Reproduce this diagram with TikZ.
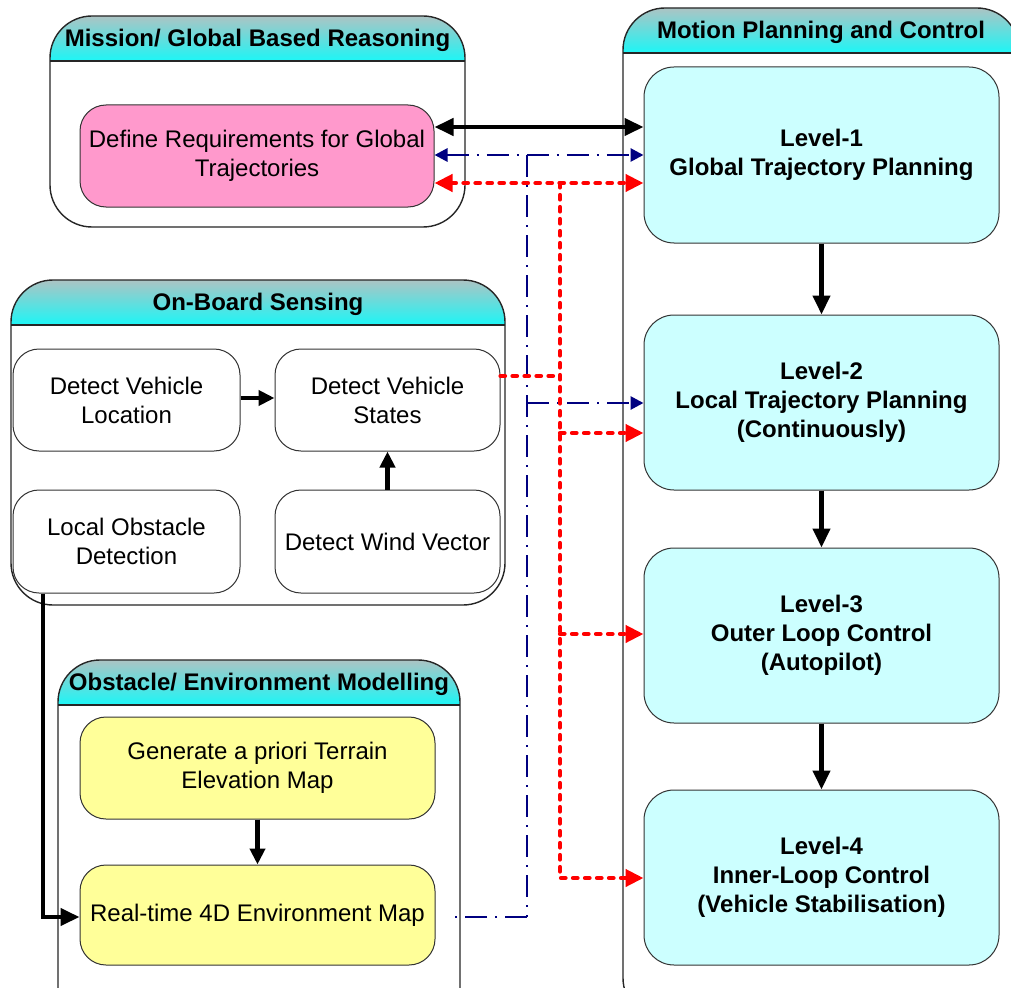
\documentclass[tikz,border=0pt]{standalone}
\usepackage{fontspec}
\setmainfont{Liberation Sans}
\usetikzlibrary{arrows.meta}
\definecolor{hdtop}{RGB}{172,196,196}
\definecolor{hdbot}{RGB}{28,246,246}
\definecolor{pinkfill}{RGB}{255,153,204}
\definecolor{yelfill}{RGB}{255,255,153}
\definecolor{cyfill}{RGB}{204,255,255}
\definecolor{navyline}{RGB}{0,0,128}
\definecolor{redline}{RGB}{255,0,0}
\tikzset{
  every node/.style={font=\fontsize{24}{29}\selectfont, align=center, inner sep=0pt},
  contline/.style={draw=black!85, line width=1.4pt},
  titlenode/.style={font=\fontsize{24}{29}\selectfont\bfseries},
  procbox/.style={draw=black!80, line width=1pt, rounded corners=26pt},
  pinkbox/.style={procbox, fill=pinkfill},
  whitebox/.style={procbox, fill=white},
  yelbox/.style={procbox, fill=yelfill},
  levelbox/.style={procbox, fill=cyfill, rounded corners=30pt, font=\fontsize{24}{29}\selectfont\bfseries},
  blk/.style={line width=4.2pt, -{Triangle[length=19pt,width=17pt]}},
  blu/.style={draw=navyline, line width=2.8pt, dash pattern=on 22pt off 8pt on 2pt off 8pt},
  rdot/.style={draw=redline, line width=4.2pt, line cap=round, dash pattern=on 4.5pt off 7.5pt},
}
\newcommand{\contbox}[7]{%
  \begin{scope}
    \clip[rounded corners=42pt] (#2,#3) rectangle (#4,#5);
    \fill[white] (#2,#3) rectangle (#4,#5);
    \shade[top color=hdtop, bottom color=hdbot] (#2,#3) rectangle (#4,#6);
  \end{scope}
  \draw[contline, rounded corners=42pt] (#2,#3) rectangle (#4,#5);
  \draw[contline] (#2,#6) -- (#4,#6);
  \node[titlenode] (#1) at ({(#2+#4)/2},{(#3+#6)/2+1.5}) {#7};
}
\begin{document}
\begin{tikzpicture}[x=1pt,y=-1pt]
\clip (0,0) rectangle (1011,987);
\fill[white] (0,0) rectangle (1011,987);
% containers
\contbox{tmission}{50}{16}{465}{227}{61}{Mission/ Global Based Reasoning}
\contbox{tmotion}{623}{8}{1019}{1020}{53}{Motion Planning and Control}
\contbox{tsensing}{11}{280}{505}{605}{325}{On-Board Sensing}
\contbox{tobstacle}{58}{660}{460}{1030}{705}{Obstacle/ Environment Modelling}
% nodes
\node[pinkbox, minimum width=354pt, minimum height=102pt] (pink) at (257,156) {Define Requirements for Global\\Trajectories};
\node[levelbox, minimum width=355pt, minimum height=176pt] (L1) at (821.5,155) {Level-1\\Global Trajectory Planning};
\node[levelbox, minimum width=355pt, minimum height=175pt] (L2) at (821.5,402.5) {Level-2\\Local Trajectory Planning\\(Continuously)};
\node[levelbox, minimum width=355pt, minimum height=175pt] (L3) at (821.5,635.5) {Level-3\\Outer Loop Control\\(Autopilot)};
\node[levelbox, minimum width=355pt, minimum height=175pt] (L4) at (821.5,877.5) {Level-4\\Inner-Loop Control\\(Vehicle Stabilisation)};
\node[whitebox, minimum width=227pt, minimum height=102pt] (loc) at (126.5,400) {Detect Vehicle\\Location};
\node[whitebox, minimum width=225pt, minimum height=102pt] (states) at (387.5,400) {Detect Vehicle\\States};
\node[whitebox, minimum width=227pt, minimum height=103pt] (obst) at (126.5,541.5) {Local Obstacle\\Detection};
\node[whitebox, minimum width=225pt, minimum height=103pt] (wind) at (387.5,541.5) {Detect Wind Vector};
\node[yelbox, minimum width=355pt, minimum height=102pt] (gen) at (257.5,768) {Generate a priori Terrain\\Elevation Map};
\node[yelbox, minimum width=355pt, minimum height=100pt] (rt) at (257.5,915) {Real-time 4D Environment Map};
% black connectors
\draw[blk, {Triangle[length=19pt,width=17pt]}-{Triangle[length=19pt,width=17pt]}] (pink.east |- 0,127) -- (L1.west |- 0,127);
\draw[blk] (L1.south) -- (L2.north);
\draw[blk] (L2.south) -- (L3.north);
\draw[blk] (L3.south) -- (L4.north);
\draw[blk, -{Triangle[length=16pt,width=15pt]}] (loc.east |- 0,398) -- (states.west |- 0,398);
\draw[blk, -{Triangle[length=16pt,width=15pt]}] (wind.north) -- (states.south);
\draw[blk, -{Triangle[length=16pt,width=15pt]}] (gen.south) -- (rt.north);
\draw[blk] (obst.south -| 43,0) -- (43,917) -- (rt.west |- 0,917);
% blue dash-dot network
\coordinate (bTop) at (527,155);
\coordinate (bMid) at (527,403);
\coordinate (bBot) at (527,917);
\draw[blu, {Triangle[length=13pt,width=13pt]}-{Triangle[length=13pt,width=13pt]}] (pink.east |- bTop) -- (L1.west |- bTop);
\draw[blu] (bTop) -- (bBot);
\draw[blu, shorten >=14pt] (bBot) -- (rt.east |- bBot);
\draw[blu, -{Triangle[length=13pt,width=13pt]}] (bMid) -- (L2.west |- bMid);
% red dotted network
\coordinate (rTop) at (560,183);
\coordinate (rS) at (560,376);
\coordinate (r2) at (560,433);
\coordinate (r3) at (560,634);
\coordinate (r4) at (560,878);
\draw[rdot, {Triangle[length=18pt,width=17pt]}-{Triangle[length=18pt,width=17pt]}] (pink.east |- rTop) -- (L1.west |- rTop);
\draw[rdot] (states.east |- rS) -- (rS);
\draw[rdot, -{Triangle[length=18pt,width=17pt]}] (rTop) -- (r4) -- (L4.west |- r4);
\draw[rdot, -{Triangle[length=18pt,width=17pt]}] (r2) -- (L2.west |- r2);
\draw[rdot, -{Triangle[length=18pt,width=17pt]}] (r3) -- (L3.west |- r3);
\end{tikzpicture}
\end{document}
